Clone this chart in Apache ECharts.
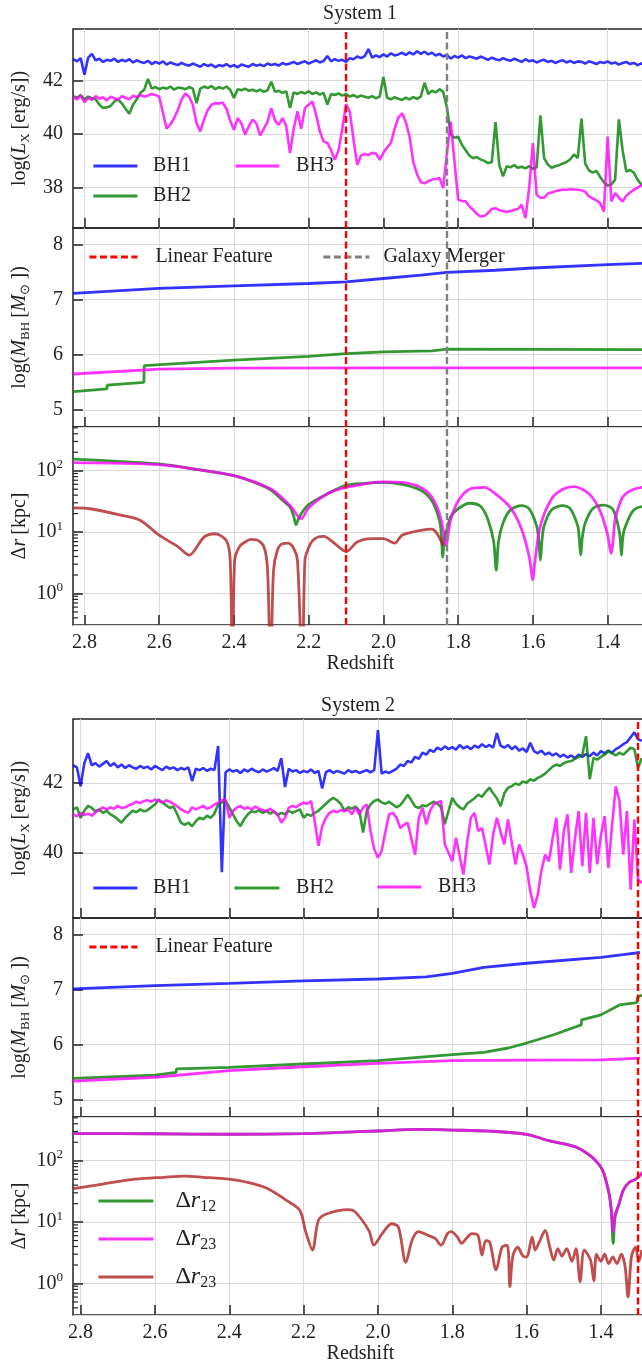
<!DOCTYPE html>
<html><head><meta charset="utf-8">
<script src="https://cdn.jsdelivr.net/npm/echarts@6/dist/echarts.min.js"></script>
<style>html,body{margin:0;padding:0;background:#fff}#c{width:642px;height:1365px}</style>
</head><body><div id="c"></div>
<script>
// ---------- shared sampling grid (redshift) ----------
const zGrid = [
2.83,2.82,2.81,2.80,2.79,2.78,2.77,2.76,2.75,2.74,
2.73,2.72,2.71,2.70,2.69,2.68,2.67,2.66,2.65,2.64,
2.63,2.62,2.61,2.60,2.59,2.58,2.57,2.56,2.55,2.54,
2.53,2.52,2.51,2.50,2.49,2.48,2.47,2.46,2.45,2.44,
2.43,2.42,2.41,2.40,2.39,2.38,2.37,2.36,2.35,2.34,
2.33,2.32,2.31,2.30,2.29,2.28,2.27,2.26,2.25,2.24,
2.23,2.22,2.21,2.20,2.19,2.18,2.17,2.16,2.15,2.14,
2.13,2.12,2.11,2.10,2.09,2.08,2.07,2.06,2.05,2.04,
2.03,2.02,2.01,2.00,1.99,1.98,1.97,1.96,1.95,1.94,
1.93,1.92,1.91,1.90,1.89,1.88,1.87,1.86,1.85,1.84,
1.83,1.82,1.81,1.80,1.79,1.78,1.77,1.76,1.75,1.74,
1.73,1.72,1.71,1.70,1.69,1.68,1.67,1.66,1.65,1.64,
1.63,1.62,1.61,1.60,1.59,1.58,1.57,1.56,1.55,1.54,
1.53,1.52,1.51,1.50,1.49,1.48,1.47,1.46,1.45,1.44,
1.43,1.42,1.41,1.40,1.39,1.38,1.37,1.36,1.35,1.34,
1.33,1.32,1.31,1.30,1.29];

const xTicks = [2.8,2.6,2.4,2.2,2.0,1.8,1.6,1.4];
const lxTicks = [38,40,42];
const mTicks = [5,6,7,8];
const logMinor = [0.4,0.5,0.6,0.7,0.8,0.9,2,3,4,5,6,7,8,9,20,30,40,50,60,70,80,90,200,300,400,500];

// ---------- System 1 : log L_X ----------
const s1_lx_bh1 = [
42.80,42.72,42.84,42.22,42.86,43.00,42.76,42.82,42.70,42.78,
42.74,42.82,42.70,42.78,42.72,42.80,42.68,42.76,42.70,42.66,
42.74,42.62,42.70,42.64,42.72,42.60,42.68,42.62,42.58,42.66,
42.60,42.56,42.64,42.58,42.52,42.62,42.55,42.60,42.50,42.58,
42.54,42.62,42.52,42.58,42.50,42.60,42.56,42.52,42.62,42.56,
42.60,42.54,42.64,42.58,42.62,42.56,42.66,42.60,42.64,42.70,
42.62,42.68,42.72,42.64,42.70,42.76,42.68,42.74,42.92,42.72,
42.80,42.74,42.78,42.70,42.84,42.80,42.90,42.84,42.92,43.18,
42.86,42.94,42.88,42.98,42.90,43.02,42.94,42.98,43.04,42.96,
43.06,42.98,43.10,43.00,43.08,42.98,43.04,42.94,43.00,42.90,
42.96,42.82,42.92,42.86,42.94,42.84,42.90,42.86,42.82,42.90,
42.84,42.78,42.86,42.80,42.76,42.84,42.78,42.74,42.82,42.76,
42.70,42.80,42.72,42.76,42.68,42.74,42.78,42.70,42.74,42.66,
42.72,42.76,42.68,42.74,42.66,42.72,42.70,42.64,42.72,42.68,
42.62,42.70,42.66,42.72,42.64,42.68,42.60,42.66,42.70,42.62,
42.66,42.58,42.64,42.60];
const s1_lx_bh2 = [
41.42,41.36,41.46,41.30,41.40,41.34,41.30,41.10,40.98,41.00,
41.05,41.22,41.30,41.15,40.95,40.76,41.10,41.30,41.55,41.66,
42.06,41.70,41.76,41.68,41.74,41.70,41.78,41.66,41.74,41.72,
41.68,41.76,41.70,41.16,41.70,41.78,41.72,41.80,41.68,41.76,
41.70,41.78,41.66,41.35,41.68,41.64,41.70,41.62,41.66,41.60,
41.66,41.58,41.64,41.96,41.58,41.62,41.54,41.60,40.98,41.56,
41.50,41.58,41.52,41.60,41.50,41.56,41.48,41.54,41.10,41.50,
41.46,41.52,41.44,41.50,41.40,41.46,41.38,41.44,41.40,41.36,
41.42,41.34,41.40,42.14,41.36,41.30,41.38,41.32,41.28,41.36,
41.30,41.38,41.32,41.40,41.92,41.50,41.62,41.56,41.68,41.58,
41.00,40.00,39.86,39.90,39.60,39.40,39.20,39.10,39.14,39.05,
39.00,38.92,38.95,40.45,38.85,38.42,38.80,38.76,38.84,38.74,
38.78,38.72,38.80,38.70,38.76,40.70,39.10,38.86,38.74,38.80,
38.84,38.90,38.96,39.06,39.24,39.10,40.58,38.90,38.64,38.56,
38.62,38.40,38.20,38.08,38.12,38.30,40.55,39.40,38.60,38.66,
38.56,38.30,38.12,38.10];
const s1_lx_bh3 = [
41.40,41.30,41.44,41.20,41.36,41.28,41.42,41.32,41.38,41.26,
41.40,41.34,41.28,41.42,41.36,41.30,41.44,41.38,41.46,41.40,
41.44,41.50,41.46,41.40,40.80,40.20,40.36,40.60,40.90,41.30,
41.52,41.40,41.10,40.40,40.10,40.55,40.90,41.10,41.16,41.14,
41.18,40.95,40.50,40.16,40.60,40.40,39.98,40.30,40.54,40.40,
39.95,40.20,40.47,40.97,40.50,40.35,40.60,40.30,39.29,40.20,
40.85,40.20,40.97,41.10,41.22,40.72,40.10,39.73,39.67,39.40,
39.04,39.40,40.20,41.12,40.84,39.80,38.85,39.20,39.26,39.22,
39.30,39.28,39.04,39.30,39.50,39.67,40.20,40.62,40.78,40.45,
39.90,38.95,38.50,38.20,38.16,38.24,38.30,38.32,38.36,37.98,
39.30,40.47,39.00,37.55,37.50,37.49,37.30,37.17,37.02,36.92,
36.94,37.05,37.20,37.23,37.16,37.12,37.10,37.12,37.17,37.20,
37.36,36.86,37.98,39.66,37.73,37.62,37.62,37.78,37.82,37.86,
37.90,37.92,37.92,37.94,37.93,37.92,37.90,37.84,37.67,37.60,
37.52,37.42,37.10,39.91,37.48,37.80,37.62,37.48,37.70,37.82,
37.92,38.00,38.08,38.12];

// ---------- System 1 : log M_BH  [z, value] ----------
const s1_m_bh1 = [[2.83,7.11],[2.6,7.2],[2.4,7.245],[2.2,7.29],[2.1,7.32],[2.0,7.38],[1.9,7.44],[1.83,7.49],[1.7,7.53],[1.6,7.57],[1.4,7.63],[1.29,7.66]];
const s1_m_bh2 = [[2.83,5.33],[2.74,5.38],[2.739,5.45],[2.641,5.5],[2.64,5.8],[2.4,5.9],[2.2,5.97],[2.1,6.02],[2.0,6.05],[1.87,6.07],[1.83,6.1],[1.6,6.095],[1.29,6.09]];
const s1_m_bh3 = [[2.83,5.65],[2.6,5.74],[2.4,5.755],[2.0,5.76],[1.29,5.76]];

// ---------- System 1 : separations (kpc) ----------
const s1_dr12 = [[2.83,155],[2.7,141],[2.6,129],[2.5,105],[2.4,83],[2.35,66],[2.3,48],[2.27,33],[2.25,25.7],[2.24,18],[2.234,13.2],[2.228,16],[2.22,20],[2.2,28],[2.15,42],[2.1,57.5],[2.05,62],[2.0,64.5],[1.95,60],[1.9,48],[1.87,32],[1.85,15.5],[1.845,9],[1.841,3.9],[1.837,8],[1.83,11.2],[1.82,17.8],[1.8,24],[1.77,29.5],[1.74,26.3],[1.72,15.8],[1.705,7],[1.698,2.4],[1.692,7],[1.68,14],[1.66,23],[1.63,27],[1.61,24],[1.59,12.6],[1.584,7],[1.58,3.5],[1.576,7],[1.57,12.6],[1.55,23],[1.52,27],[1.5,24],[1.48,12.6],[1.476,8],[1.472,4.2],[1.468,8],[1.46,14],[1.44,24],[1.41,27.5],[1.385,23],[1.37,11.2],[1.366,7.5],[1.363,4.2],[1.36,7.5],[1.355,11.2],[1.33,23],[1.29,27]];
const s1_dr13 = [[2.83,136],[2.6,126],[2.5,105],[2.4,83],[2.3,50],[2.25,27],[2.22,16.6],[2.2,25],[2.15,42],[2.1,53.5],[2.0,66],[1.95,64.5],[1.9,53.5],[1.87,37],[1.85,20],[1.84,11],[1.832,6.0],[1.826,10],[1.82,16],[1.8,32],[1.77,50],[1.73,53.5],[1.7,42],[1.66,25],[1.63,11],[1.61,4],[1.6,1.66],[1.595,3.2],[1.58,12.6],[1.55,35],[1.52,50],[1.49,55],[1.45,42],[1.42,22],[1.4,9],[1.391,4.5],[1.384,9],[1.38,16],[1.36,37],[1.33,50],[1.29,55]];
const s1_dr23 = [[2.83,24.8],[2.785,24],[2.697,18.6],[2.65,15.5],[2.6,8.9],[2.55,5.8],[2.52,4.2],[2.48,8.3],[2.45,9.4],[2.42,7.2],[2.41,3.5],[2.404,0.05],[2.398,3.5],[2.385,5.8],[2.37,6.9],[2.355,7.6],[2.34,7.5],[2.32,5.8],[2.31,2.4],[2.302,0.05],[2.294,2.4],[2.283,5.2],[2.27,6.5],[2.255,6.6],[2.24,5.4],[2.23,3.5],[2.217,0.05],[2.21,3.5],[2.2,5.6],[2.19,7.2],[2.175,8.3],[2.16,8.5],[2.13,6.5],[2.1,4.8],[2.07,6.9],[2.03,7.8],[2.0,7.8],[1.97,6.6],[1.95,8.9],[1.9,10.7],[1.87,11.2],[1.84,6.0]];

// ---------- System 2 : log L_X ----------
const s2_lx_bh1 = [
42.50,42.44,41.90,42.56,42.84,42.50,42.56,42.46,42.54,42.62,
42.48,42.56,42.44,42.52,42.42,42.50,42.44,42.40,42.48,42.42,
42.46,42.38,42.48,42.42,42.36,42.46,42.40,42.44,42.36,42.42,
42.38,42.44,42.05,42.40,42.36,42.42,42.34,42.40,42.36,43.05,
39.45,42.30,42.38,42.32,42.36,42.28,42.38,42.32,42.40,42.34,
42.30,42.38,42.32,42.36,42.42,42.34,42.70,41.88,42.40,42.32,
42.36,42.28,42.34,42.30,42.38,42.28,42.34,41.84,42.30,42.36,
42.28,42.34,42.30,42.26,42.36,42.30,42.34,42.28,42.32,42.36,
42.30,42.36,43.50,42.26,42.32,42.28,42.34,42.40,42.52,42.48,
42.62,42.58,42.74,42.68,42.86,42.80,42.94,42.88,43.00,42.94,
43.04,42.96,43.02,42.94,43.08,42.98,43.04,42.96,43.06,43.00,
43.10,43.02,43.08,43.00,43.42,43.06,43.00,43.08,42.96,43.04,
42.92,42.98,42.88,43.14,42.90,42.84,42.92,42.80,42.86,42.78,
42.84,42.74,42.80,42.72,42.78,42.70,42.80,42.74,42.82,42.76,
42.86,42.78,42.90,42.84,42.92,42.86,42.96,43.02,43.10,43.16,
43.30,43.44,43.24,43.20];
const s2_lx_bh2 = [
41.24,41.30,41.00,41.20,41.34,41.28,41.18,41.24,41.14,41.20,
41.10,41.04,40.96,40.86,41.00,41.10,41.20,41.16,41.24,41.18,
41.22,41.30,41.38,41.52,41.44,41.36,41.28,41.32,41.10,40.86,
40.80,40.86,40.76,40.90,41.00,40.96,41.06,41.00,41.12,41.38,
41.44,41.48,41.30,41.10,40.90,40.76,40.96,41.10,41.19,41.16,
41.22,41.14,41.20,41.12,41.18,41.08,41.14,41.10,41.20,41.14,
41.19,41.24,41.00,41.10,41.06,41.14,41.20,41.30,41.40,41.50,
41.57,41.50,41.40,41.20,41.30,41.26,41.32,41.20,40.58,41.20,
41.38,41.48,41.52,41.44,41.40,41.46,41.38,41.30,41.36,41.50,
41.66,41.50,41.32,41.28,41.36,41.33,41.40,41.46,41.40,41.30,
40.82,41.20,41.57,41.40,41.30,41.24,41.40,41.48,41.56,41.66,
41.60,41.74,41.86,41.70,41.56,41.33,41.70,41.86,41.90,41.98,
41.94,42.04,42.00,42.10,42.06,42.14,42.19,42.26,42.36,42.46,
42.52,42.48,42.56,42.60,42.62,42.68,42.74,42.80,43.33,42.10,
42.71,42.66,42.74,42.80,42.90,42.84,42.78,42.86,42.80,42.90,
43.00,42.96,42.43,42.70];
const s2_lx_bh3 = [
41.10,41.04,41.14,41.08,41.12,41.06,41.16,41.22,41.30,41.24,
41.30,41.26,41.34,41.28,41.30,41.36,41.40,41.46,41.42,41.48,
41.50,41.46,41.52,41.48,41.44,41.50,41.46,41.40,41.33,41.24,
41.18,41.14,41.30,41.24,41.29,41.34,41.26,41.30,41.38,41.43,
41.50,41.52,41.00,41.20,41.29,41.34,41.26,41.30,41.24,41.32,
41.26,41.22,41.19,41.26,41.18,41.10,40.86,41.00,41.29,41.34,
41.30,41.38,41.43,41.40,41.48,40.90,40.20,40.76,41.00,41.14,
41.20,41.16,41.22,41.19,41.24,41.10,41.29,41.10,41.30,41.38,
40.62,40.10,39.86,40.05,40.60,41.10,41.14,41.00,40.71,40.80,
40.86,40.40,39.95,41.00,41.29,40.81,41.20,41.38,41.44,41.48,
40.24,40.00,39.76,40.43,39.90,39.38,40.30,41.00,41.14,40.62,
40.71,40.20,39.67,40.52,41.00,40.60,40.24,40.95,40.30,39.67,
40.24,39.95,39.60,38.90,38.43,38.80,39.50,39.95,39.76,40.40,
41.00,39.52,40.60,41.10,39.43,40.40,41.19,39.62,41.14,39.43,
41.00,39.67,40.50,41.05,39.57,40.80,41.90,41.48,39.95,41.19,
38.95,40.95,39.24,39.14];

// ---------- System 2 : log M_BH ----------
const s2_m_bh1 = [[2.82,7.01],[2.6,7.07],[2.4,7.11],[2.2,7.155],[2.0,7.19],[1.87,7.23],[1.8,7.29],[1.715,7.4],[1.6,7.475],[1.4,7.58],[1.34,7.63],[1.295,7.67]];
const s2_m_bh2 = [[2.82,5.39],[2.6,5.45],[2.543,5.5],[2.542,5.56],[2.4,5.59],[2.2,5.65],[2.0,5.71],[1.8,5.82],[1.715,5.86],[1.649,5.94],[1.6,6.03],[1.527,6.18],[1.453,6.36],[1.452,6.45],[1.4,6.54],[1.35,6.72],[1.303,6.76],[1.302,6.85],[1.29,6.9]];
const s2_m_bh3 = [[2.82,5.34],[2.6,5.41],[2.4,5.53],[2.2,5.6],[2.0,5.66],[1.8,5.71],[1.6,5.72],[1.4,5.725],[1.35,5.74],[1.295,5.755]];

// ---------- System 2 : separations ----------
const s2_dr12 = [[2.82,277],[2.6,275],[2.4,270],[2.2,276],[2.1,290],[2.0,305],[1.89,324],[1.8,316],[1.7,304],[1.6,270],[1.54,212],[1.47,170],[1.428,120],[1.406,88],[1.395,69],[1.389,54],[1.378,29],[1.372,15.5],[1.367,4.5],[1.362,12],[1.351,20],[1.34,33],[1.323,45],[1.306,50],[1.287,65]];
const s2_dr23a = [[2.82,277],[2.6,275],[2.4,270],[2.2,276],[2.1,290],[2.0,305],[1.89,324],[1.8,316],[1.7,304],[1.6,270],[1.54,212],[1.47,170],[1.428,120],[1.406,88],[1.395,69],[1.389,54],[1.378,29],[1.372,15.5],[1.367,6.9],[1.362,13],[1.351,20],[1.34,33],[1.323,45],[1.306,50],[1.287,65]];
const s2_dr23b = [[2.82,35],[2.741,41.7],[2.653,50],[2.576,53.7],[2.52,56],[2.47,53.7],[2.4,50],[2.355,45],[2.3,36],[2.245,22.4],[2.21,15.5],[2.195,7.2],[2.176,3.5],[2.16,10.7],[2.135,13.8],[2.08,16],[2.062,14.8],[2.024,7.2],[2.011,4.2],[1.99,6.3],[1.963,9.4],[1.945,8.3],[1.925,2.2],[1.908,5.1],[1.891,7.0],[1.863,6.0],[1.846,5.4],[1.83,4.2],[1.813,6.5],[1.803,7.0],[1.786,5.7],[1.775,4.5],[1.759,5.7],[1.748,6.5],[1.731,6.1],[1.72,2.9],[1.71,5.0],[1.699,4.7],[1.682,1.66],[1.666,3.9],[1.652,4.2],[1.645,0.89],[1.637,2.8],[1.624,3.9],[1.61,2.8],[1.6,2.7],[1.585,5.7],[1.577,3.5],[1.566,4.7],[1.55,7.3],[1.538,4.0],[1.527,2.4],[1.516,3.7],[1.505,2.8],[1.492,3.7],[1.478,2.3],[1.467,3.7],[1.456,1.07],[1.445,3.5],[1.428,2.4],[1.419,1.1],[1.412,3.0],[1.4,2.3],[1.39,3.0],[1.379,2.1],[1.368,2.7],[1.357,2.1],[1.345,3.0],[1.335,1.9],[1.327,0.6],[1.318,2.7],[1.307,3.9],[1.298,2.3],[1.29,3.5]];

// ---------- event lines ----------
const s1_linear = 2.1, s1_merger = 1.83, s2_linear = 1.3;

// ================= build chart =================
const FONT = 'Liberation Serif';
const INK = '#222';
const C1 = 'rgba(0,0,255,0.8)', C2 = 'rgba(0,128,0,0.8)', C3 = 'rgba(255,0,255,0.8)', C4 = 'rgba(178,34,34,0.8)';
const RED = '#ff0000', GREY = '#808080';
const zip = (z, v) => v.map((y, i) => [z[i], y]);
const zS1 = zGrid.slice(0, 154), zS2 = zGrid.slice(1, 155);
const tRich = {t:{fontFamily:FONT,fontSize:20,color:INK,lineHeight:22}};

const sysDef = [
  {tops:[29,228,427], hs:[199,199,198], xmin:1.292, xmax:2.8306, lx:[36.49,43.93]},
  {tops:[719,918,1117], hs:[199,199,198], xmin:1.2733, xmax:2.8205, lx:[38.14,43.82]}
];
const nameRich = {
  n:{fontFamily:FONT,fontSize:20,color:INK,lineHeight:24},
  i:{fontFamily:FONT,fontSize:20,fontStyle:'italic',color:INK,lineHeight:24},
  s:{fontFamily:FONT,fontSize:13,color:INK,verticalAlign:'top',padding:[11,0,0,0]}
};
const grids=[], xAxes=[], yAxes=[], series=[];
sysDef.forEach((s, si) => {
  for (let p=0;p<3;p++){
    grids.push({left:73, right:-6, top:s.tops[p], height:s.hs[p], show:true, borderColor:INK, borderWidth:1.5, backgroundColor:'transparent', containLabel:false, outerBoundsMode:'none'});
    const last = p===2;
    xAxes.push({type:'value', gridIndex:si*3+p, min:s.xmin, max:s.xmax, inverse:true, splitNumber:8,
      axisLine:{show:false},
      axisTick:{show:true, inside:true, length:10, customValues:xTicks, lineStyle:{color:INK,width:1.5}},
      axisLabel:{show:last, customValues:xTicks, formatter:v=>'{t|'+(+v).toFixed(1)+'}', rich:tRich, fontFamily:FONT, fontSize:20, color:INK, margin:7},
      splitLine:{show:true, lineStyle:{color:'#d9d9d9', width:1}},
      name:last?'Redshift':'', nameLocation:'middle', nameGap:29, nameMoveOverlap:false,
      nameTextStyle:{fontFamily:FONT,fontSize:20,color:INK}});
  }
  const common = {axisLine:{show:false}, splitLine:{show:true,lineStyle:{color:'#d9d9d9',width:1}},
     nameLocation:'middle', nameRotate:90, nameGap:41, nameMoveOverlap:false};
  yAxes.push(Object.assign({type:'value', gridIndex:si*3, min:s.lx[0], max:s.lx[1], splitNumber:si===0?4:3,
    axisTick:{inside:true,length:10,customValues:lxTicks,lineStyle:{color:INK,width:1.5}},
    axisLabel:{customValues:lxTicks, formatter:v=>'{t|'+Math.round(v)+'}', rich:tRich, margin:10},
    name:'{n|log(}{i|L}{s|X}{n|\u2009[erg/s])}', nameTextStyle:{rich:nameRich}}, common));
  yAxes.push(Object.assign({type:'value', gridIndex:si*3+1, min:4.69, max:8.295, splitNumber:4,
    axisTick:{inside:true,length:10,customValues:mTicks,lineStyle:{color:INK,width:1.5}},
    axisLabel:{customValues:mTicks, formatter:v=>'{t|'+Math.round(v)+'}', rich:tRich, margin:10},
    name:'{n|log(}{i|M}{s|BH}{n|\u2009[}{i|M}{s|\u2299}{n|\u2009])}', nameTextStyle:{rich:nameRich}}, common));
  yAxes.push(Object.assign({type:'log', logBase:10, gridIndex:si*3+2, min:0.306, max:516,
    axisTick:{inside:true,length:10,lineStyle:{color:INK,width:1.5}},
    axisLabel:{showMinLabel:false, showMaxLabel:false, margin:10,
      formatter:v=>'{b|10}{e|'+Math.round(Math.log10(v))+'}',
      rich:{b:{fontFamily:FONT,fontSize:20,color:INK,lineHeight:22}, e:{fontFamily:FONT,fontSize:13,color:INK,verticalAlign:'bottom',padding:[0,0,12,0]}}},
    name:'{n|\u0394}{i|r}{n|\u2009[kpc]}', nameTextStyle:{rich:nameRich}}, common));
});

function line(name, gi, data, color, w, smooth){
  return {type:'line', name, xAxisIndex:gi, yAxisIndex:gi, data, showSymbol:false, symbol:'none', sampling:null,
    smooth: smooth||false,
    lineStyle:{color, width:w||2.6}, itemStyle:{color}, animation:false, silent:true, z:2, clip:true};
}
function vline(name, gi, x, color){
  const ls = {color, width:2.4, type:[7,3.5]};
  return {type:'line', name, xAxisIndex:gi, yAxisIndex:gi, data:[], symbol:'none', showSymbol:false,
    lineStyle:ls, itemStyle:{color}, z:5, animation:false,
    markLine:{silent:true, symbol:['none','none'], label:{show:false}, animation:false, lineStyle:ls, emphasis:{disabled:true}, data:[{xAxis:x}]}};
}
function minor(gi, xEdge){
  return {type:'custom', xAxisIndex:gi, yAxisIndex:gi, clip:false, silent:true, animation:false, z:6,
    data: logMinor.map(v=>[xEdge, v]),
    renderItem:(params, api)=>{const p = api.coord([api.value(0), api.value(1)]);
      return {type:'line', shape:{x1:p[0], y1:p[1], x2:p[0]+5, y2:p[1]}, style:{stroke:INK, lineWidth:1.2}};}};
}

const SM = 0.3;
// System 1
series.push(line('BH1',0,zip(zS1,s1_lx_bh1),C1), line('BH2',0,zip(zS1,s1_lx_bh2),C2), line('BH3',0,zip(zS1,s1_lx_bh3),C3));
series.push(line('m11',1,s1_m_bh1,C1,2.8), line('m12',1,s1_m_bh2,C2,2.8), line('m13',1,s1_m_bh3,C3,2.8));
series.push(line('d12s1',2,s1_dr12,C2,2.8,SM), line('d13s1',2,s1_dr13,C3,2.8,SM), line('d23s1',2,s1_dr23,C4,2.8,SM));
series.push(vline('lf_a',0,s1_linear,RED), vline('gm_a',0,s1_merger,GREY));
series.push(vline('Linear Feature',1,s1_linear,RED), vline('Galaxy Merger',1,s1_merger,GREY));
series.push(vline('lf_c',2,s1_linear,RED), vline('gm_c',2,s1_merger,GREY));
series.push(minor(2, sysDef[0].xmax));
// System 2
series.push(line('BH1',3,zip(zS2,s2_lx_bh1),C1), line('BH2',3,zip(zS2,s2_lx_bh2),C2), line('BH3',3,zip(zS2,s2_lx_bh3),C3));
series.push(line('m21',4,s2_m_bh1,C1,2.8), line('m22',4,s2_m_bh2,C2,2.8), line('m23',4,s2_m_bh3,C3,2.8));
series.push(line('dr12',5,s2_dr12,C2,2.8,SM), line('dr23a',5,s2_dr23a,C3,2.8,SM), line('dr23b',5,s2_dr23b,C4,2.8,SM));
series.push(vline('lf2_a',3,s2_linear,RED), vline('Linear Feature',4,s2_linear,RED), vline('lf2_c',5,s2_linear,RED));
series.push(minor(5, sysDef[1].xmax));

const noSym = {color:'rgba(0,0,0,0)', borderWidth:0, opacity:0};
function leg(name, left, cy, w, pad){
  return {data:[name], left, top:cy-12, itemWidth:w, itemHeight:24, padding:0, itemGap:0, selectedMode:false,
    itemStyle:noSym, lineStyle:{width:2.8},
    textStyle:{fontFamily:FONT,fontSize:20,color:INK,lineHeight:24,padding:[0,0,0,pad]}};
}
const drNames = {dr12:'{d|\u0394}{r|r}{s|12}', dr23a:'{d|\u0394}{r|r}{s|23}', dr23b:'{d|\u0394}{r|r}{s|23}'};
const drRich = {d:{fontFamily:FONT,fontSize:24,color:INK,lineHeight:28}, r:{fontFamily:FONT,fontSize:24,fontStyle:'italic',color:INK,lineHeight:28},
  s:{fontFamily:FONT,fontSize:16,color:INK,verticalAlign:'top',padding:[12,0,0,0]}};
function legDr(name, cy){
  return {data:[name], left:97, top:cy-14, itemWidth:55, itemHeight:28, padding:0, itemGap:0, selectedMode:false,
    itemStyle:noSym, lineStyle:{width:2.8}, formatter:n=>drNames[n],
    textStyle:{fontFamily:FONT,fontSize:24,color:INK,lineHeight:28,padding:[0,0,0,17],rich:drRich}};
}
const legends = [
  leg('BH1',92,166,44,10.7), leg('BH3',234,166,44,11.7), leg('BH2',92,196,44,10.7),
  leg('Linear Feature',88,257,48,13), leg('Galaxy Merger',322,257,46,9),
  leg('BH1',92,888,44,10.7), leg('BH2',233,888,45,11.7), leg('BH3',376,887,44,11.7),
  leg('Linear Feature',88,947,48,13),
  legDr('dr12',1201), legDr('dr23a',1239), legDr('dr23b',1277)
];

const chart = echarts.init(document.getElementById('c'), null, {renderer:'canvas'});
chart.setOption({
  animation:false, backgroundColor:'#fff', textStyle:{fontFamily:FONT},
  title:[
    {text:'System 1', left:360, top:4, textAlign:'center', padding:0, textStyle:{fontFamily:FONT,fontSize:20,fontWeight:'normal',color:INK}},
    {text:'System 2', left:358, top:696, textAlign:'center', padding:0, textStyle:{fontFamily:FONT,fontSize:20,fontWeight:'normal',color:INK}}
  ],
  legend: legends, grid: grids, xAxis: xAxes, yAxis: yAxes, series: series
});
</script></body></html>
